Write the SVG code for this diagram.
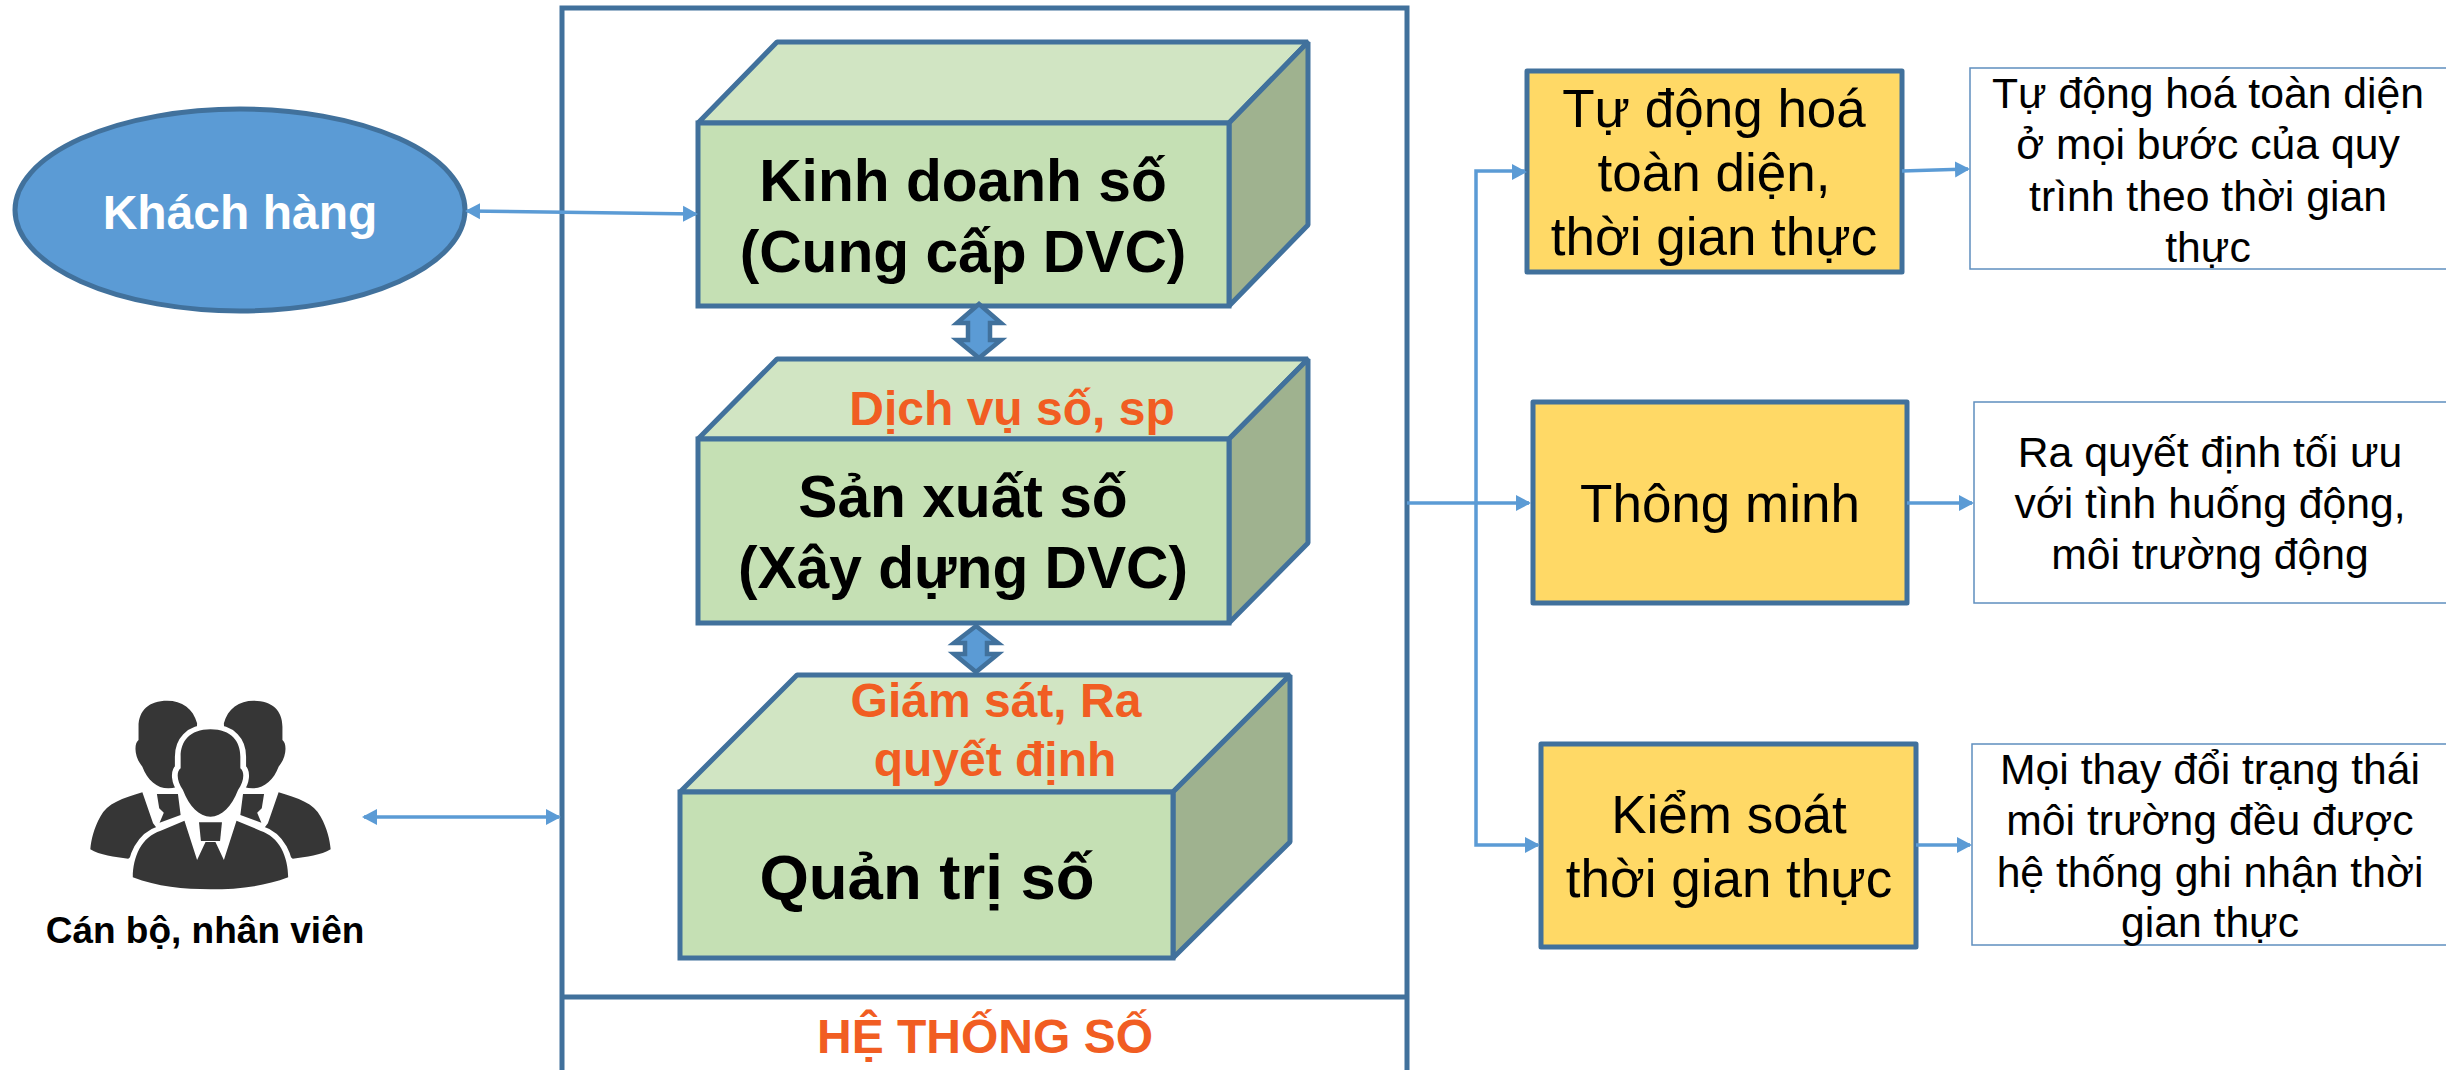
<svg xmlns="http://www.w3.org/2000/svg" width="2446" height="1070" viewBox="0 0 2446 1070">
<style>
text{font-family:"Liberation Sans",Arial,sans-serif;text-anchor:middle}
.b{font-weight:700}
.s60{font-size:58.7px}
.s48{font-size:48px}
.s56{font-size:53px}
.s44{font-size:42.7px}
.or{fill:#F15D22}
.line{stroke:#41719C;stroke-width:5;fill:none}
.front{fill:#C5E0B4;stroke:#41719C;stroke-width:5;stroke-linejoin:miter}
.top{fill:#D1E5C3;stroke:#41719C;stroke-width:5;stroke-linejoin:bevel}
.side{fill:#9FB28F;stroke:#41719C;stroke-width:5;stroke-linejoin:bevel}
.yl{fill:#FFD966;stroke:#41719C;stroke-width:5;stroke-linejoin:round}
.wh{fill:#fff;stroke:#5F8FBF;stroke-width:1.5}
.conn{stroke:#5B9BD5;fill:none;stroke-width:3.5}
.dbl{fill:#5B9BD5;stroke:#41719C;stroke-width:4.5;stroke-linejoin:miter}
.ic{fill:#363636}
.icw{fill:#363636;stroke:#fff;stroke-width:30;paint-order:stroke;stroke-linejoin:round}
</style>
<defs>
<marker id="ah" markerUnits="userSpaceOnUse" markerWidth="16" markerHeight="18" refX="13" refY="8" orient="auto-start-reverse" viewBox="0 0 16 16">
<path d="M0,0L15,8L0,16Z" fill="#5B9BD5"/>
</marker>
<g id="backPerson">
<path class="ic" d="M437,122C390,122 362,150 362,200L362,240C350,250 350,290 372,320C385,360 410,385 440,385C470,385 500,360 510,320L515,190C505,145 475,122 437,122Z"/>
<path class="ic" d="M372,397C320,415 280,430 262,470C245,505 238,540 236,568C260,585 300,592 335,596L420,520L400,490Z"/>
<path class="ic" d="M410,402H465L472,465L417,488L428,458L416,445Z"/>
</g>
</defs>
<rect width="2446" height="1070" fill="#fff"/>
<g id="he-thong-so">
<path class="line" d="M562,1072V8H1407V1072M562,997H1407"/>
<text class="b s48 or" x="985" y="1053">HỆ THỐNG SỐ</text>
</g>
<g id="khach-hang">
<ellipse cx="240" cy="210" rx="225" ry="101" fill="#5B9BD5" stroke="#41719C" stroke-width="5"/>
<text class="b s48" fill="#fff" x="240" y="229">Khách hàng</text>
</g>
<g id="can-bo">
<g transform="translate(0,660) scale(0.3827,0.3333)">
<use href="#backPerson"/>
<use href="#backPerson" transform="translate(1100,0) scale(-1,1)"/>
<path class="icw" d="M550,208C495,208 472,245 472,290L472,325C460,335 462,365 478,390C495,440 520,470 550,470C580,470 605,440 622,390C638,365 640,335 628,325L628,290C628,245 605,208 550,208Z"/>
<path class="icw" d="M347,652C347,590 370,530 420,512L482,482L515,600L537,546H563L585,600L618,482L680,512C730,530 753,590 753,652C690,680 620,688 550,688C480,688 410,680 347,652Z"/>
<path class="ic" d="M520,487H580L575,543H525Z"/>
</g>
<text class="b" font-size="37" x="205" y="943">Cán bộ, nhân viên</text>
</g>
<g id="kinh-doanh-so">
<path class="top" d="M698,123L777,42H1308L1229,123Z"/>
<path class="side" d="M1229,123L1308,42V225L1229,306Z"/>
<rect class="front" x="698" y="123" width="531" height="183"/>
<text class="b s60" x="963" y="201">Kinh doanh số</text>
<text class="b s60" x="963" y="272">(Cung cấp DVC)</text>
</g>
<g id="san-xuat-so">
<path class="top" d="M698,439L777,359H1308L1229,439Z"/>
<path class="side" d="M1229,439L1308,359V543L1229,623Z"/>
<rect class="front" x="698" y="439" width="531" height="184"/>
<text class="b s48 or" x="1012" y="425">Dịch vụ số, sp</text>
<text class="b s60" x="963" y="517">Sản xuất số</text>
<text class="b s60" x="963" y="588">(Xây dựng DVC)</text>
</g>
<g id="quan-tri-so">
<path class="top" d="M680,792L797,675H1290L1173,792Z"/>
<path class="side" d="M1173,792L1290,675V842L1173,958Z"/>
<rect class="front" x="680" y="792" width="493" height="166"/>
<text class="b s48 or" x="996" y="717">Giám sát, Ra</text>
<text class="b s48 or" x="995" y="776">quyết định</text>
<text class="b" font-size="63.5" x="927" y="899">Quản trị số</text>
</g>
<g id="tu-dong-hoa">
<rect class="yl" x="1527" y="71" width="375" height="201"/>
<text class="s56" x="1714" y="127">Tự động hoá</text>
<text class="s56" x="1714" y="191">toàn diện,</text>
<text class="s56" x="1714" y="255">thời gian thực</text>
</g>
<g id="thong-minh">
<rect class="yl" x="1533" y="402" width="374" height="201"/>
<text class="s56" x="1720" y="522">Thông minh</text>
</g>
<g id="kiem-soat">
<rect class="yl" x="1541" y="744" width="375" height="203"/>
<text class="s56" x="1729" y="833">Kiểm soát</text>
<text class="s56" x="1729" y="897">thời gian thực</text>
</g>
<g id="mo-ta-1">
<rect class="wh" x="1970" y="68" width="480" height="201"/>
<text class="s44" x="2208" y="108">Tự động hoá toàn diện</text>
<text class="s44" x="2208" y="159">ở mọi bước của quy</text>
<text class="s44" x="2208" y="211">trình theo thời gian</text>
<text class="s44" x="2208" y="262">thực</text>
</g>
<g id="mo-ta-2">
<rect class="wh" x="1974" y="402" width="476" height="201"/>
<text class="s44" x="2210" y="467">Ra quyết định tối ưu</text>
<text class="s44" x="2210" y="518">với tình huống động,</text>
<text class="s44" x="2210" y="569">môi trường động</text>
</g>
<g id="mo-ta-3">
<rect class="wh" x="1972" y="744" width="478" height="201"/>
<text class="s44" x="2210" y="784">Mọi thay đổi trạng thái</text>
<text class="s44" x="2210" y="835">môi trường đều được</text>
<text class="s44" x="2210" y="887">hệ thống ghi nhận thời</text>
<text class="s44" x="2210" y="937">gian thực</text>
</g>
<g id="connectors">
<path class="conn" d="M467,211L696,214" marker-start="url(#ah)" marker-end="url(#ah)"/>
<path class="conn" d="M364,817H559" marker-start="url(#ah)" marker-end="url(#ah)"/>
<path class="conn" d="M1407,503H1529" marker-end="url(#ah)"/>
<path class="conn" d="M1525,171H1476V845H1538" marker-end="url(#ah)"/>
<path class="conn" d="M1902,171L1968,169" marker-end="url(#ah)"/>
<path class="conn" d="M1907,503H1972" marker-end="url(#ah)"/>
<path class="conn" d="M1916,845H1970" marker-end="url(#ah)"/>
<path fill="#5B9BD5" d="M1527,172L1512,164V180Z"/>
<polygon class="dbl" points="979,304 1001,323 990,323 990,340 1001,340 979,358 957,340 968,340 968,323 957,323"/>
<polygon class="dbl" points="976,626 998,643 987,643 987,654 998,654 976,672 954,654 965,654 965,643 954,643"/>
</g>
</svg>
